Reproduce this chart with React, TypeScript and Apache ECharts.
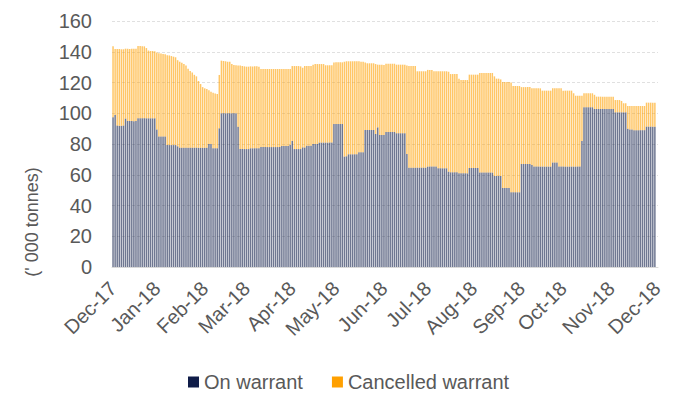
import React, { useEffect, useRef } from "react";
import * as echarts from "echarts";

// Month tick labels (at the first trading day of each month)
const tickLabels = [
  "Dec-17", "Jan-18", "Feb-18", "Mar-18", "Apr-18", "May-18", "Jun-18",
  "Jul-18", "Aug-18", "Sep-18", "Oct-18", "Nov-18", "Dec-18",
];

const seriesNames = ["On warrant", "Cancelled warrant"];
const seriesColors = ["#0f1c48", "#ffa000"];

// Values for each weekday from 1 Dec 2017 to 30 Nov 2018 ('000 tonnes)
const onWarrant = [
  // Dec-17
  97.4, 98.8, 92.0, 91.8, 91.8, 92.0, 96.5, 95.0, 95.0, 95.0, 94.8, 95.0, 96.8, 96.8, 96.8, 96.8, 96.7, 96.7, 96.7, 96.7, 96.7,
  // Jan-18
  89.5, 84.8, 84.8, 84.8, 84.8, 79.3, 79.3, 79.3, 79.3, 79.3, 78.5, 77.6, 77.6, 77.6, 77.6, 77.6, 77.6, 77.6, 77.6, 77.6, 77.5, 77.5, 77.5,
  // Feb-18
  77.5, 77.5, 80.0, 80.0, 77.2, 77.2, 77.2, 90.2, 100.0, 100.0, 100.0, 100.0, 100.0, 100.0, 100.0, 100.0, 91.3, 76.7, 76.7, 76.7,
  // Mar-18
  76.7, 76.7, 77.2, 77.2, 77.2, 77.2, 77.2, 78.0, 78.0, 78.0, 78.0, 78.0, 78.0, 78.0, 78.0, 78.0, 78.0, 78.7, 78.7, 78.7, 78.7, 79.5,
  // Apr-18
  82.0, 76.7, 76.7, 76.7, 76.7, 77.8, 77.8, 78.9, 78.9, 78.9, 80.0, 80.0, 80.0, 80.9, 80.9, 80.9, 80.9, 80.9, 80.9, 80.9, 93.0,
  // May-18
  93.0, 93.0, 93.0, 93.0, 71.8, 72.0, 73.3, 73.3, 73.3, 73.3, 73.3, 74.6, 74.6, 74.6, 89.1, 89.1, 89.1, 89.1, 89.1, 86.5, 90.8, 85.9, 85.9,
  // Jun-18
  85.9, 87.8, 87.8, 87.8, 87.8, 87.8, 87.0, 87.0, 87.0, 87.0, 87.0, 73.5, 64.6, 64.6, 64.6, 64.6, 64.6, 64.6, 64.6, 64.6, 64.6,
  // Jul-18
  65.3, 65.3, 65.3, 65.3, 65.3, 64.2, 64.2, 64.2, 64.2, 64.2, 62.0, 61.6, 61.6, 61.6, 61.6, 60.9, 60.9, 60.9, 60.9, 60.9, 64.4, 64.4,
  // Aug-18
  64.4, 64.4, 64.4, 61.4, 61.4, 61.4, 61.4, 61.4, 61.4, 61.4, 59.2, 59.2, 59.2, 59.2, 51.4, 51.4, 51.4, 51.4, 48.6, 48.6, 48.6, 48.6, 48.6,
  // Sep-18
  67.0, 67.0, 67.0, 67.0, 67.0, 66.3, 65.3, 65.3, 65.3, 65.3, 65.3, 65.3, 65.3, 65.3, 65.3, 67.9, 67.9, 67.9, 65.3, 65.3,
  // Oct-18
  65.3, 65.3, 65.3, 65.3, 65.3, 65.3, 65.3, 65.3, 65.3, 82.0, 103.9, 103.9, 103.9, 103.9, 103.9, 102.8, 102.8, 102.8, 102.8, 102.8, 102.8, 102.8, 102.8,
  // Nov-18
  102.8, 102.8, 100.6, 100.6, 100.6, 100.6, 100.6, 100.6, 90.0, 89.5, 89.5, 89.0, 89.0, 89.0, 89.0, 89.0, 89.0, 91.3, 91.3, 91.3, 91.3, 91.3,
];

const cancelledWarrant = [
  // Dec-17
  46.1, 43.0, 49.8, 50.0, 49.8, 49.6, 45.5, 47.0, 46.8, 47.0, 47.2, 47.0, 46.9, 46.9, 46.7, 46.7, 45.7, 44.1, 43.8, 43.8, 43.6,
  // Jan-18
  50.0, 54.2, 54.0, 53.7, 53.6, 58.5, 58.3, 57.9, 57.5, 57.1, 56.0, 55.9, 55.2, 54.4, 53.4, 51.4, 49.9, 48.9, 47.4, 46.4, 43.5, 41.5, 39.5,
  // Feb-18
  38.7, 38.3, 35.0, 34.0, 36.2, 35.6, 35.3, 34.7, 34.2, 34.0, 33.8, 33.5, 33.5, 32.0, 31.4, 31.3, 39.7, 54.3, 54.1, 53.8,
  // Mar-18
  53.6, 53.6, 53.3, 53.2, 53.4, 53.3, 53.1, 50.8, 50.8, 50.8, 50.8, 50.8, 50.8, 50.8, 50.8, 50.8, 50.8, 50.1, 50.1, 50.1, 50.1, 49.3,
  // Apr-18
  48.7, 54.0, 54.0, 54.0, 53.8, 51.8, 52.9, 51.8, 51.8, 51.8, 51.5, 52.0, 52.0, 51.1, 51.1, 51.1, 50.3, 50.3, 50.3, 50.3, 40.0,
  // May-18
  40.1, 40.1, 40.1, 40.1, 61.7, 61.8, 60.5, 60.5, 60.5, 60.5, 60.5, 59.2, 58.9, 58.9, 43.9, 43.4, 43.4, 43.4, 43.4, 45.5, 40.8, 45.7, 45.6,
  // Jun-18
  45.5, 44.4, 44.4, 44.4, 44.4, 44.4, 44.6, 44.6, 44.6, 44.6, 44.6, 57.5, 66.1, 66.1, 66.1, 66.1, 62.7, 62.7, 62.7, 62.7, 62.7,
  // Jul-18
  62.9, 62.9, 62.9, 62.0, 62.0, 63.1, 63.1, 63.1, 63.1, 63.1, 65.0, 63.9, 63.9, 63.9, 63.9, 61.6, 60.7, 60.7, 60.7, 60.7, 60.7, 60.7,
  // Aug-18
  60.7, 60.7, 60.7, 64.8, 64.8, 64.8, 64.8, 64.8, 64.8, 64.8, 64.8, 63.3, 63.3, 62.8, 68.9, 68.9, 68.9, 68.9, 71.4, 69.1, 69.1, 69.1, 69.1,
  // Sep-18
  50.0, 50.0, 50.0, 50.0, 50.0, 49.9, 50.9, 50.9, 50.9, 50.9, 49.4, 49.4, 49.4, 49.4, 49.4, 48.3, 48.3, 48.3, 50.9, 50.9,
  // Oct-18
  49.4, 49.4, 49.4, 49.4, 49.4, 47.7, 46.1, 46.1, 46.1, 29.4, 9.1, 9.1, 9.1, 9.1, 9.1, 9.2, 8.0, 8.0, 8.0, 8.0, 8.0, 8.0, 8.0,
  // Nov-18
  8.0, 8.0, 8.0, 8.0, 8.0, 7.4, 5.9, 5.9, 14.7, 15.2, 15.2, 15.7, 15.7, 15.7, 15.7, 15.7, 15.7, 15.6, 15.6, 15.6, 15.6, 15.6,
];

const yAxisTitle = "(' 000 tonnes)";

function buildDays() {
  // every weekday from 1 Dec 2017 to 3 Dec 2018
  const days: string[] = [];
  const labelFor: Record<string, string> = {};
  let m = 0;
  let prevMonth = -1;
  const start = Date.UTC(2017, 11, 1);
  const end = Date.UTC(2018, 11, 3);
  for (let t = start; t <= end; t += 86400000) {
    const d = new Date(t);
    const wd = d.getUTCDay();
    if (wd === 0 || wd === 6) continue;
    const key = d.toISOString().slice(0, 10);
    days.push(key);
    if (d.getUTCMonth() !== prevMonth) {
      labelFor[key] = tickLabels[m];
      m++;
      prevMonth = d.getUTCMonth();
    }
  }
  return { days, labelFor };
}

export default function App() {
  const ref = useRef<HTMLDivElement>(null);
  useEffect(() => {
    if (!ref.current) return;
    const chart = echarts.init(ref.current, undefined, { renderer: "svg" });
    const { days, labelFor } = buildDays();
    const font = "'Liberation Sans', Arial, sans-serif";
    chart.setOption({
      animation: false,
      textStyle: { fontFamily: font },
      grid: { left: 112, right: 16, top: 21, bottom: 145, containLabel: false },
      legend: {
        data: seriesNames.map((n, i) => ({
          name: n,
          itemStyle: { color: seriesColors[i], opacity: 1 },
        })),
        left: 183,
        top: 367,
        icon: "rect",
        itemWidth: 11,
        itemHeight: 11,
        itemGap: 29,
        textStyle: { fontSize: 20, color: "#595959", fontFamily: font },
      },
      xAxis: {
        type: "category",
        data: days,
        boundaryGap: true,
        axisTick: { show: false },
        axisLine: { lineStyle: { color: "#d9d9d9", width: 1 } },
        axisLabel: {
          interval: (_i: number, v: string) => v in labelFor,
          formatter: (v: string) => labelFor[v] || "",
          rotate: 45,
          fontSize: 20,
          color: "#595959",
          margin: 18,
          fontFamily: font,
        },
        splitLine: { show: false },
      },
      yAxis: {
        type: "value",
        min: 0,
        max: 160,
        interval: 20,
        axisLine: { show: false },
        axisTick: { show: false },
        axisLabel: { fontSize: 20, color: "#595959", margin: 20, fontFamily: font },
        splitLine: { lineStyle: { color: "#e0e0e0", width: 1, type: [3, 2] } },
      },
      graphic: [
        {
          type: "text",
          x: 32,
          y: 222,
          rotation: Math.PI / 2,
          style: {
            text: yAxisTitle,
            fontSize: 18,
            fill: "#595959",
            fontFamily: font,
            align: "center",
            verticalAlign: "middle",
          },
        },
      ],
      series: [
        {
          name: seriesNames[0],
          type: "bar",
          stack: "stock",
          data: onWarrant,
          barWidth: 1.5,
          itemStyle: { color: seriesColors[0], opacity: 0.6 },
        },
        {
          name: seriesNames[1],
          type: "bar",
          stack: "stock",
          data: cancelledWarrant,
          barWidth: 1.5,
          itemStyle: { color: seriesColors[1], opacity: 0.6 },
        },
      ],
    });
    return () => chart.dispose();
  }, []);
  return (
    <div
      ref={ref}
      style={{ position: "fixed", left: 0, top: 0, width: 674, height: 412, background: "#fff" }}
    />
  );
}
